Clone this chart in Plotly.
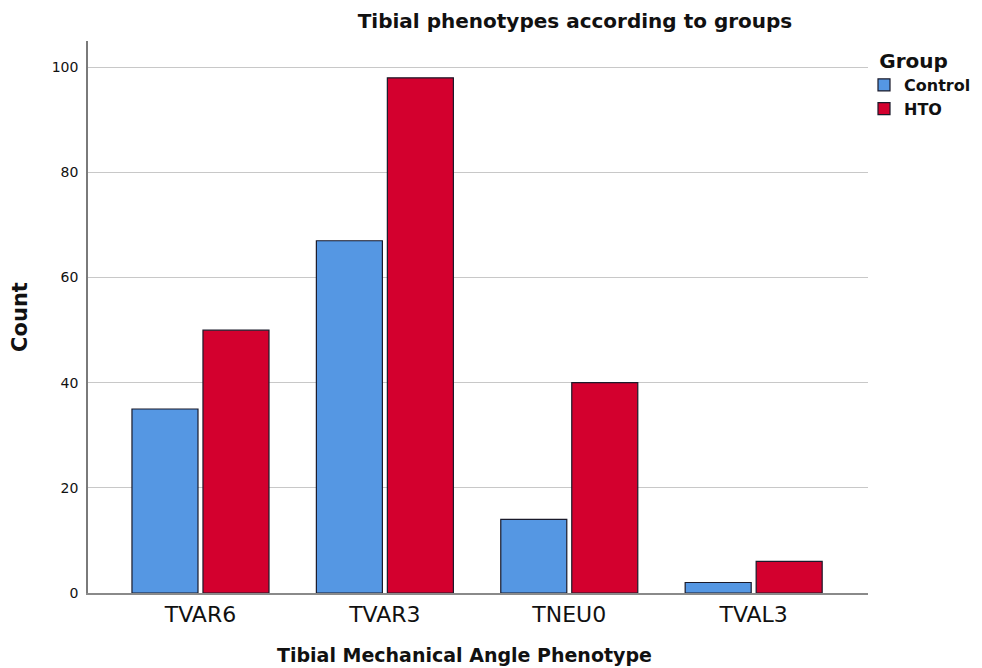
import plotly.graph_objects as go

categories = ["TVAR6", "TVAR3", "TNEU0", "TVAL3"]
control = [35, 67, 14, 2]
hto = [50, 98, 40, 6]
y_ticks = [0, 20, 40, 60, 80, 100]

OFF = 8  # page body margin
W, H = 982 - OFF, 668 - OFF
FONT = "DejaVu Sans, Verdana, sans-serif"
PL, PR = 88 - OFF, 868 - OFF  # plot left / right in figure px
PT, PB = 41 - OFF, 593 - OFF  # plot top / bottom in figure px

fig = go.Figure()
fig.add_trace(go.Bar(x=categories, y=control, name="<b>Control</b>",
                     marker=dict(color="#5597E3", line=dict(color="#1a1a2a", width=1.2))))
fig.add_trace(go.Bar(x=categories, y=hto, name="<b>HTO</b>",
                     marker=dict(color="#D3002E", line=dict(color="#1a1a2a", width=1.2))))

fig.update_layout(
    width=W, height=H,
    margin=dict(l=PL, r=W - PR, t=PT, b=H - PB, autoexpand=False),
    plot_bgcolor="white", paper_bgcolor="white",
    barmode="group", bargap=0.23, bargroupgap=0.07,
    font=dict(family=FONT, color="#111"),
    title=dict(text="<b>Tibial phenotypes according to groups</b>",
               x=(575 - OFF) / W, xanchor="center", y=1 - (21 - OFF) / H, yanchor="middle",
               font=dict(size=20, color="#111")),
    legend=dict(title=dict(text="<b>Group</b>&nbsp;&nbsp;", font=dict(size=20), side="top center"),
                xref="container", yref="container",
                x=(864 - OFF) / W, xanchor="left", y=1 - (42 - OFF) / H, yanchor="top",
                font=dict(size=16), itemwidth=30, tracegroupgap=0,
                bgcolor="rgba(0,0,0,0)"),
    xaxis=dict(range=[-0.61, 3.62], showline=True, linecolor="#8a8a8a", linewidth=1.5,
               ticks="", tickfont=dict(size=22, color="#111"), showgrid=False,
               automargin=False, ticklabelstandoff=1),
    yaxis=dict(range=[0, 105], tickvals=y_ticks, showline=True, linecolor="#7a7a7a",
               linewidth=1.5, ticks="", tickfont=dict(size=14, color="#111"),
               showgrid=True, gridcolor="#c8c8c8", gridwidth=1.3, zeroline=False,
               automargin=False, ticklabelstandoff=5,
               title=dict(text="<b>Count</b>", font=dict(size=21, color="#111"), standoff=27)),
    annotations=[dict(text="<b>Tibial Mechanical Angle Phenotype</b>",
                      xref="paper", yref="paper",
                      x=(464 - 88) / (868 - 88), y=(PB - (655 - OFF)) / (PB - PT),
                      xanchor="center", yanchor="middle", showarrow=False,
                      font=dict(size=19, color="#111"))],
)

fig.write_html("out.html")
